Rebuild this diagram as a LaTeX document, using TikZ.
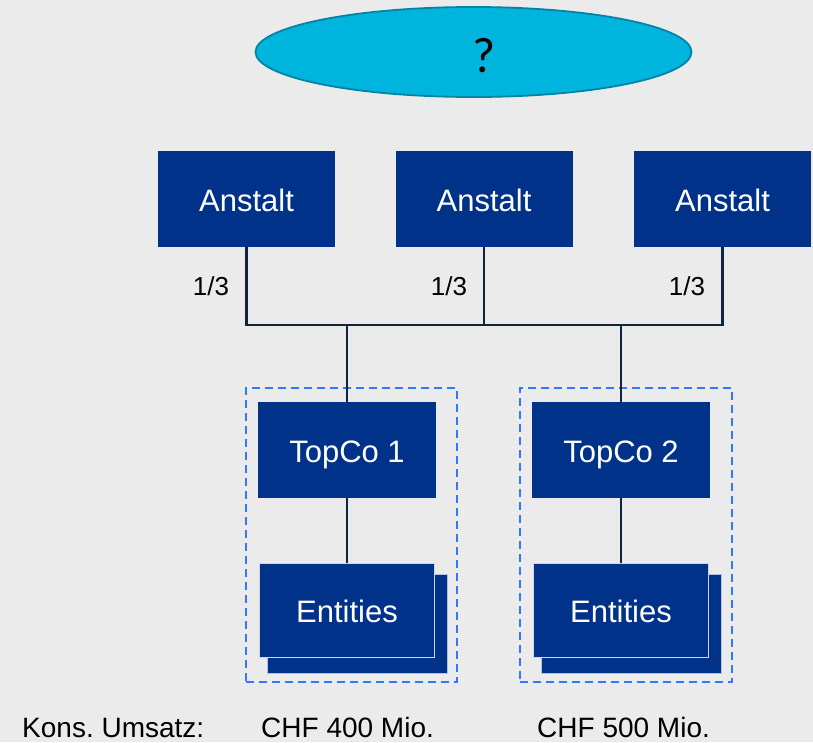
\documentclass[tikz,border=0pt]{standalone}
\usepackage{fontspec}
\setmainfont{Liberation Sans}
\newfontfamily\qfont{Carlito}
\usetikzlibrary{shapes.geometric}
\frenchspacing
\definecolor{bg}{RGB}{235,235,235}
\definecolor{boxblue}{RGB}{0,50,138}
\definecolor{ellfill}{RGB}{0,181,221}
\definecolor{elldraw}{RGB}{0,132,165}
\definecolor{linec}{RGB}{16,36,64}
\definecolor{dashc}{RGB}{50,120,255}
\tikzset{
  bluebox/.style={fill=boxblue, text=white, inner sep=0pt, text height=24pt, text depth=0pt, font=\fontsize{31}{37}\selectfont},
  conn/.style={draw=linec, line width=2.6pt},
  grp/.style={draw=dashc, line width=2pt, dash pattern=on 8pt off 5pt},
  share/.style={font=\fontsize{26}{30}\selectfont, text=black},
  foot/.style={font=\fontsize{28}{32}\selectfont, text=black, inner sep=0pt, text depth=0pt}
}
\begin{document}
\begin{tikzpicture}[x=1pt,y=-1pt]
\fill[bg] (0,0) rectangle (813,742);
\useasboundingbox (0,0) rectangle (813,742);
% ellipse
\node[ellipse, fill=ellfill, draw=elldraw, line width=1.8pt, minimum width=436pt, minimum height=90pt, inner sep=0pt] (top) at (473.5,52) {};
\node[font=\qfont\fontsize{50}{56}\selectfont, text=black, inner sep=0pt] (q) at (484,56) {?};
% Anstalt boxes
\node[bluebox, minimum width=177pt, minimum height=96pt] (a1) at (246.5,199) {Anstalt};
\node[bluebox, minimum width=177pt, minimum height=96pt] (a2) at (484,199) {Anstalt};
\node[bluebox, minimum width=177pt, minimum height=96pt] (a3) at (722.5,199) {Anstalt};
% dashed groups
\node[grp, minimum width=211pt, minimum height=294pt, inner sep=0pt] (g1) at (351.5,535) {};
\node[grp, minimum width=212pt, minimum height=294pt, inner sep=0pt] (g2) at (626,535) {};
% TopCo
\node[bluebox, minimum width=178pt, minimum height=96pt] (t1) at (347,450) {TopCo 1};
\node[bluebox, minimum width=178pt, minimum height=96pt] (t2) at (621,450) {TopCo 2};
% Entities back
\node[fill=boxblue, draw=white!70!boxblue, line width=0.8pt, minimum width=180pt, minimum height=99pt, inner sep=0pt] (e1b) at (357,623.5) {};
\node[fill=boxblue, draw=white!70!boxblue, line width=0.8pt, minimum width=180pt, minimum height=99pt, inner sep=0pt] (e2b) at (631,623.5) {};
% Entities front
\node[bluebox, draw=white!80!boxblue, line width=0.8pt, minimum width=175pt, minimum height=94pt] (e1) at (347,610) {Entities};
\node[bluebox, draw=white!80!boxblue, line width=0.8pt, minimum width=175pt, minimum height=94pt] (e2) at (621,610) {Entities};
% connectors
\coordinate (j1) at (246.5,325);
\coordinate (j3) at (722.5,325);
\coordinate (jt1) at (347,325);
\coordinate (jt2) at (621,325);
\coordinate (j2) at (484,325);
\draw[conn] (a1.south) -- (j1) -- (j3) -- (a3.south);
\draw[conn] (a2.south) -- (j2);
\draw[conn] (jt1) -- (t1.north);
\draw[conn] (jt2) -- (t2.north);
\draw[conn] (t1.south) -- (e1.north);
\draw[conn] (t2.south) -- (e2.north);
% share labels
\node[share] (s1) at (211,286) {1/3};
\node[share] (s2) at (449,286) {1/3};
\node[share] (s3) at (687,286) {1/3};
% footer
\node[foot, anchor=base west] (k) at (22,737) {Kons. Umsatz:};
\node[foot, anchor=base west] (c1) at (261,737) {CHF 400 Mio.};
\node[foot, anchor=base west] (c2) at (537,737) {CHF 500 Mio.};
\end{tikzpicture}
\end{document}
